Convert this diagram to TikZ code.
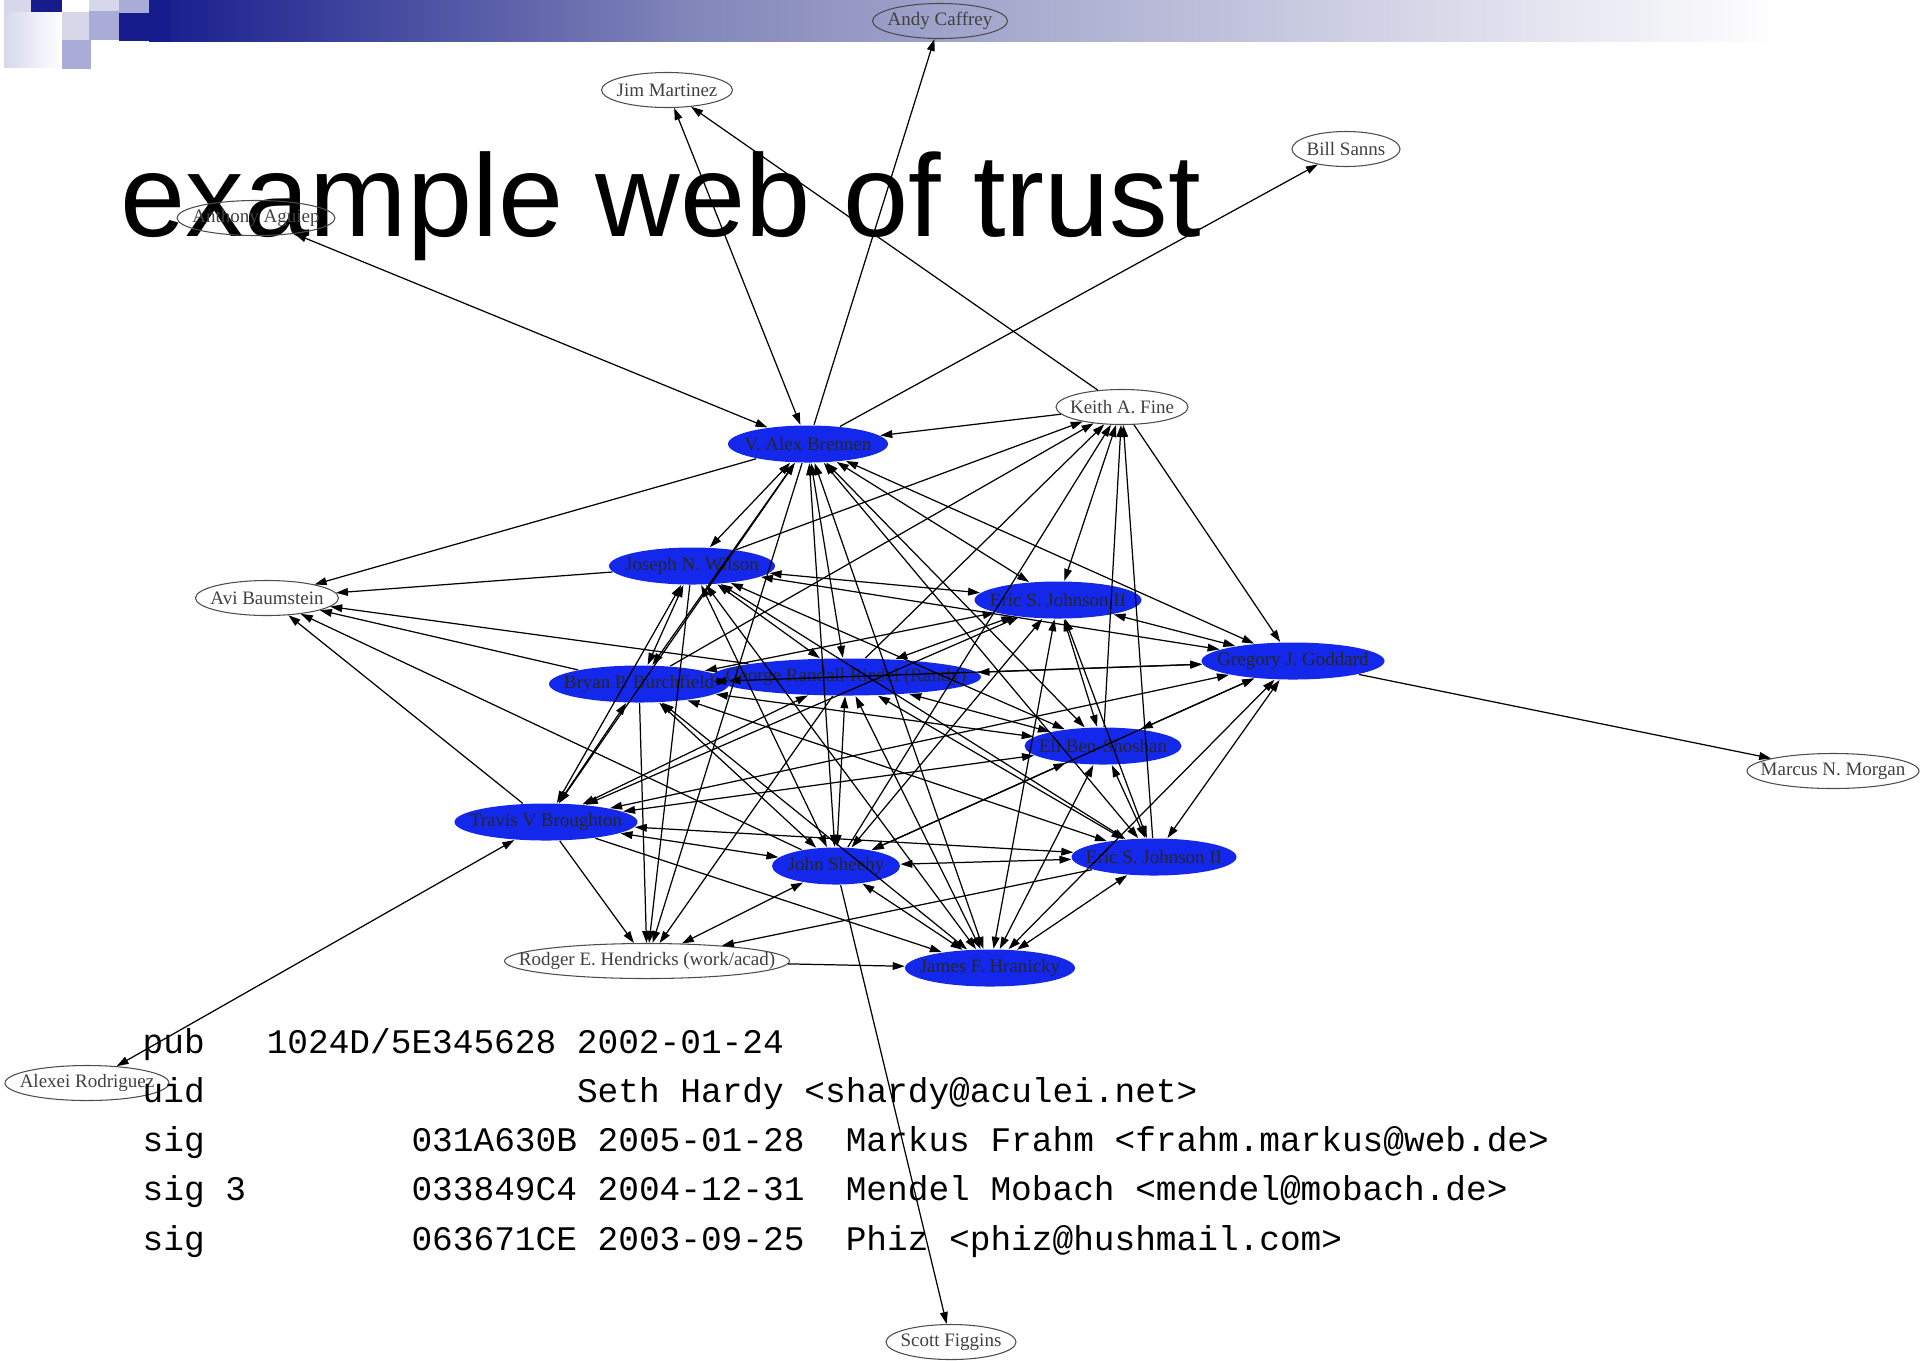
\documentclass[tikz,border=0pt]{standalone}
\usepackage{fontspec}
\usetikzlibrary{shapes.geometric, arrows.meta}
\newfontfamily\titlefont{Liberation Sans}
\newfontfamily\labelfont{Liberation Serif}
\newfontfamily\keyfont{Liberation Mono}
\definecolor{keyblue}{RGB}{20,40,235}
\definecolor{navy}{RGB}{22,28,140}
\definecolor{bannermid}{RGB}{132,136,186}
\definecolor{lavlight}{RGB}{214,216,234}
\definecolor{lavmid}{RGB}{169,172,214}
\tikzset{
  keynode/.style={ellipse, inner sep=0pt, minimum width=#1*0.01cm,
    font=\labelfont\fontsize{5.4}{6}\selectfont,
    execute at begin node={\hbox to 0pt\bgroup\hss},
    execute at end node={\hss\egroup}},
  signer/.style={keynode=#1, fill=keyblue, minimum height=0.37cm, text=black!85},
  outsider/.style={keynode=#1, draw=black!70, line width=0.3pt, minimum height=0.35cm, text=black!75},
  trust/.style={-{Triangle[length=3.4pt,width=2.2pt]}, line width=0.35pt},
  mutual/.style={{Triangle[length=3.4pt,width=2.2pt]}-{Triangle[length=3.4pt,width=2.2pt]}, line width=0.35pt},
  listing/.style={anchor=base west, inner sep=0pt, font=\keyfont\fontsize{9.8}{11}\selectfont}
}
\begin{document}
\begin{tikzpicture}[x=0.01cm, y=-0.01cm]
      \useasboundingbox (0,0) rectangle (1925,1360);

      % slide header
      \shade [left color=navy, right color=bannermid] (149,0) rectangle (701,41);
      \shade [left color=bannermid, right color=white] (700,0) rectangle (1780,41);
      \fill [lavlight] (4,0) rectangle (31,12);
      \fill [navy] (31,0) rectangle (62,12);
      \shade [left color=lavlight, right color=white] (4,12) rectangle (62,67);
      \fill [lavlight] (62,12) rectangle (89,40);
      \fill [lavmid] (62,40) rectangle (91,69);
      \fill [lavlight] (89,0) rectangle (119,11);
      \fill [lavmid] (89,11) rectangle (119,40);
      \fill [lavmid] (119,0) rectangle (149,13);
      \fill [navy] (119,13) rectangle (170,41);
      \fill [navy] (149,0) rectangle (170,13);

      \node [anchor=base west, inner sep=0pt, font=\titlefont\fontsize{33.3}{40}\selectfont] (title) at (120,236) {example web of trust};

      % keys
      \node [outsider=135] (ac) at (940, 21) {Andy Caffrey};
      \node [outsider=131] (jm) at (667, 90) {Jim Martinez};
      \node [outsider=108] (bs) at (1346, 149) {Bill Sanns};
      \node [outsider=158] (aa) at (256, 218) {Anthony Aguiep};
      \node [outsider=132] (kf) at (1122, 407) {Keith A. Fine};
      \node [signer=160] (vb) at (808, 444) {V. Alex Brennen};
      \node [signer=166] (jw) at (692, 566) {Joseph N. Wilson};
      \node [outsider=143] (ab) at (267, 598) {Avi Baumstein};
      \node [signer=167] (ej1) at (1058, 600) {Eric S. Johnson II};
      \node [signer=183] (gg) at (1293, 661) {Gregory J. Goddard};
      \node [signer=270] (sr) at (846, 677) {George Randall Riedel (Randy)};
      \node [signer=180] (bb) at (639, 684) {Bryan P. Burchfield};
      \node [signer=157] (eb) at (1103, 746) {Eli Ben-Shoshan};
      \node [outsider=172] (mm) at (1833, 771) {Marcus N. Morgan};
      \node [signer=183] (tb) at (546, 822) {Travis V Broughton};
      \node [signer=128] (js) at (836, 866) {John Sheehy};
      \node [signer=165] (ej2) at (1154, 857) {Eric S. Johnson II};
      \node [outsider=285] (rh) at (647, 961) {Rodger E. Hendricks (work/acad)};
      \node [signer=170] (jh) at (990, 968) {James F. Hranicky};
      \node [outsider=164] (ar) at (87, 1083) {Alexei Rodriguez};
      \node [outsider=130] (sf) at (951, 1342) {Scott Figgins};

      % outer signatures
      \draw [trust] (vb) -- (ac);
      \draw [mutual] (jm) -- (vb);
      \draw [trust] (kf) -- (jm);
      \draw [mutual] (aa) -- (vb);
      \draw [trust] (vb) -- (bs);
      \draw [trust] (kf) -- (vb);
      \draw [trust] (kf) -- (gg);
      \draw [trust] (gg) -- (mm);
      \draw [mutual] (tb) -- (ar);
      \draw [trust] (js) -- (sf);
      \draw [trust] (rh) -- (jh);

      % into Avi
      \draw [trust] (vb) -- (ab);
      \draw [trust] (jw) -- (ab);
      \draw [trust] (sr) -- (ab);
      \draw [trust] (bb) -- (ab);
      \draw [trust] (js) -- (ab);
      \draw [trust] (tb) -- (ab);

      % into Keith
      \draw [trust] (jw) -- (kf);
      \draw [trust] (bb) -- (kf);
      \draw [trust] (sr) -- (kf);
      \draw [trust] (js) -- (kf);
      \draw [trust] (eb) -- (kf);
      \draw [trust] (ej2) -- (kf);
      \draw [mutual] (ej1) -- (kf);

      % into Rodger
      \draw [trust] (tb) -- (rh);
      \draw [trust] (bb) -- (rh);
      \draw [trust] (jw) -- (rh);
      \draw [trust] (sr) -- (rh);
      \draw [trust] (vb) -- (rh);
      \draw [trust] (ej2) -- (rh);
      \draw [mutual] (js) -- (rh);

      % between signers
      \draw [mutual] (vb) -- (jw);
      \draw [mutual] (vb) -- (bb);
      \draw [mutual] (vb) -- (sr);
      \draw [mutual] (vb) -- (tb);
      \draw [mutual] (vb) -- (js);
      \draw [mutual] (vb) -- (ej1);
      \draw [mutual] (vb) -- (gg);
      \draw [mutual] (vb) -- (eb);
      \draw [mutual] (vb) -- (ej2);
      \draw [mutual] (vb) -- (jh);
      \draw [mutual] (jw) -- (ej1);
      \draw [mutual] (jw) -- (gg);
      \draw [mutual] (jw) -- (bb);
      \draw [mutual] (jw) -- (sr);
      \draw [mutual] (jw) -- (tb);
      \draw [mutual] (jw) -- (js);
      \draw [mutual] (jw) -- (eb);
      \draw [mutual] (jw) -- (ej2);
      \draw [mutual] (jw) -- (jh);
      \draw [mutual] (ej1) -- (gg);
      \draw [mutual] (ej1) -- (bb);
      \draw [mutual] (ej1) -- (sr);
      \draw [mutual] (ej1) -- (tb);
      \draw [mutual] (ej1) -- (js);
      \draw [mutual] (ej1) -- (eb);
      \draw [mutual] (ej1) -- (ej2);
      \draw [mutual] (ej1) -- (jh);
      \draw [mutual] (gg) -- (bb);
      \draw [mutual] (gg) -- (sr);
      \draw [mutual] (gg) -- (tb);
      \draw [mutual] (gg) -- (js);
      \draw [mutual] (gg) -- (eb);
      \draw [mutual] (gg) -- (ej2);
      \draw [mutual] (gg) -- (jh);
      \draw [mutual] (bb) -- (sr);
      \draw [mutual] (bb) -- (tb);
      \draw [mutual] (bb) -- (js);
      \draw [mutual] (bb) -- (eb);
      \draw [mutual] (bb) -- (ej2);
      \draw [mutual] (bb) -- (jh);
      \draw [mutual] (sr) -- (tb);
      \draw [mutual] (sr) -- (js);
      \draw [mutual] (sr) -- (eb);
      \draw [mutual] (sr) -- (ej2);
      \draw [mutual] (sr) -- (jh);
      \draw [mutual] (eb) -- (tb);
      \draw [mutual] (eb) -- (js);
      \draw [mutual] (eb) -- (ej2);
      \draw [mutual] (eb) -- (jh);
      \draw [mutual] (tb) -- (js);
      \draw [mutual] (tb) -- (ej2);
      \draw [trust] (tb) -- (jh);
      \draw [mutual] (js) -- (ej2);
      \draw [mutual] (js) -- (jh);
      \draw [mutual] (ej2) -- (jh);

      % key listing
      \frenchspacing
      \node [listing] (pub) at (142, 1053) {pub~~~1024D/5E345628 2002-01-24};
      \node [listing] (uid) at (142, 1102) {uid~~~~~~~~~~~~~~~~~~Seth Hardy <shardy@aculei.net>};
      \node [listing] (sig1) at (142, 1151) {sig~~~~~~~~~~031A630B 2005-01-28~~Markus Frahm <frahm.markus@web.de>};
      \node [listing] (sig2) at (142, 1200) {sig 3~~~~~~~~033849C4 2004-12-31~~Mendel Mobach <mendel@mobach.de>};
      \node [listing] (sig3) at (142, 1250) {sig~~~~~~~~~~063671CE 2003-09-25~~Phiz <phiz@hushmail.com>};
    \end{tikzpicture}
\end{document}
